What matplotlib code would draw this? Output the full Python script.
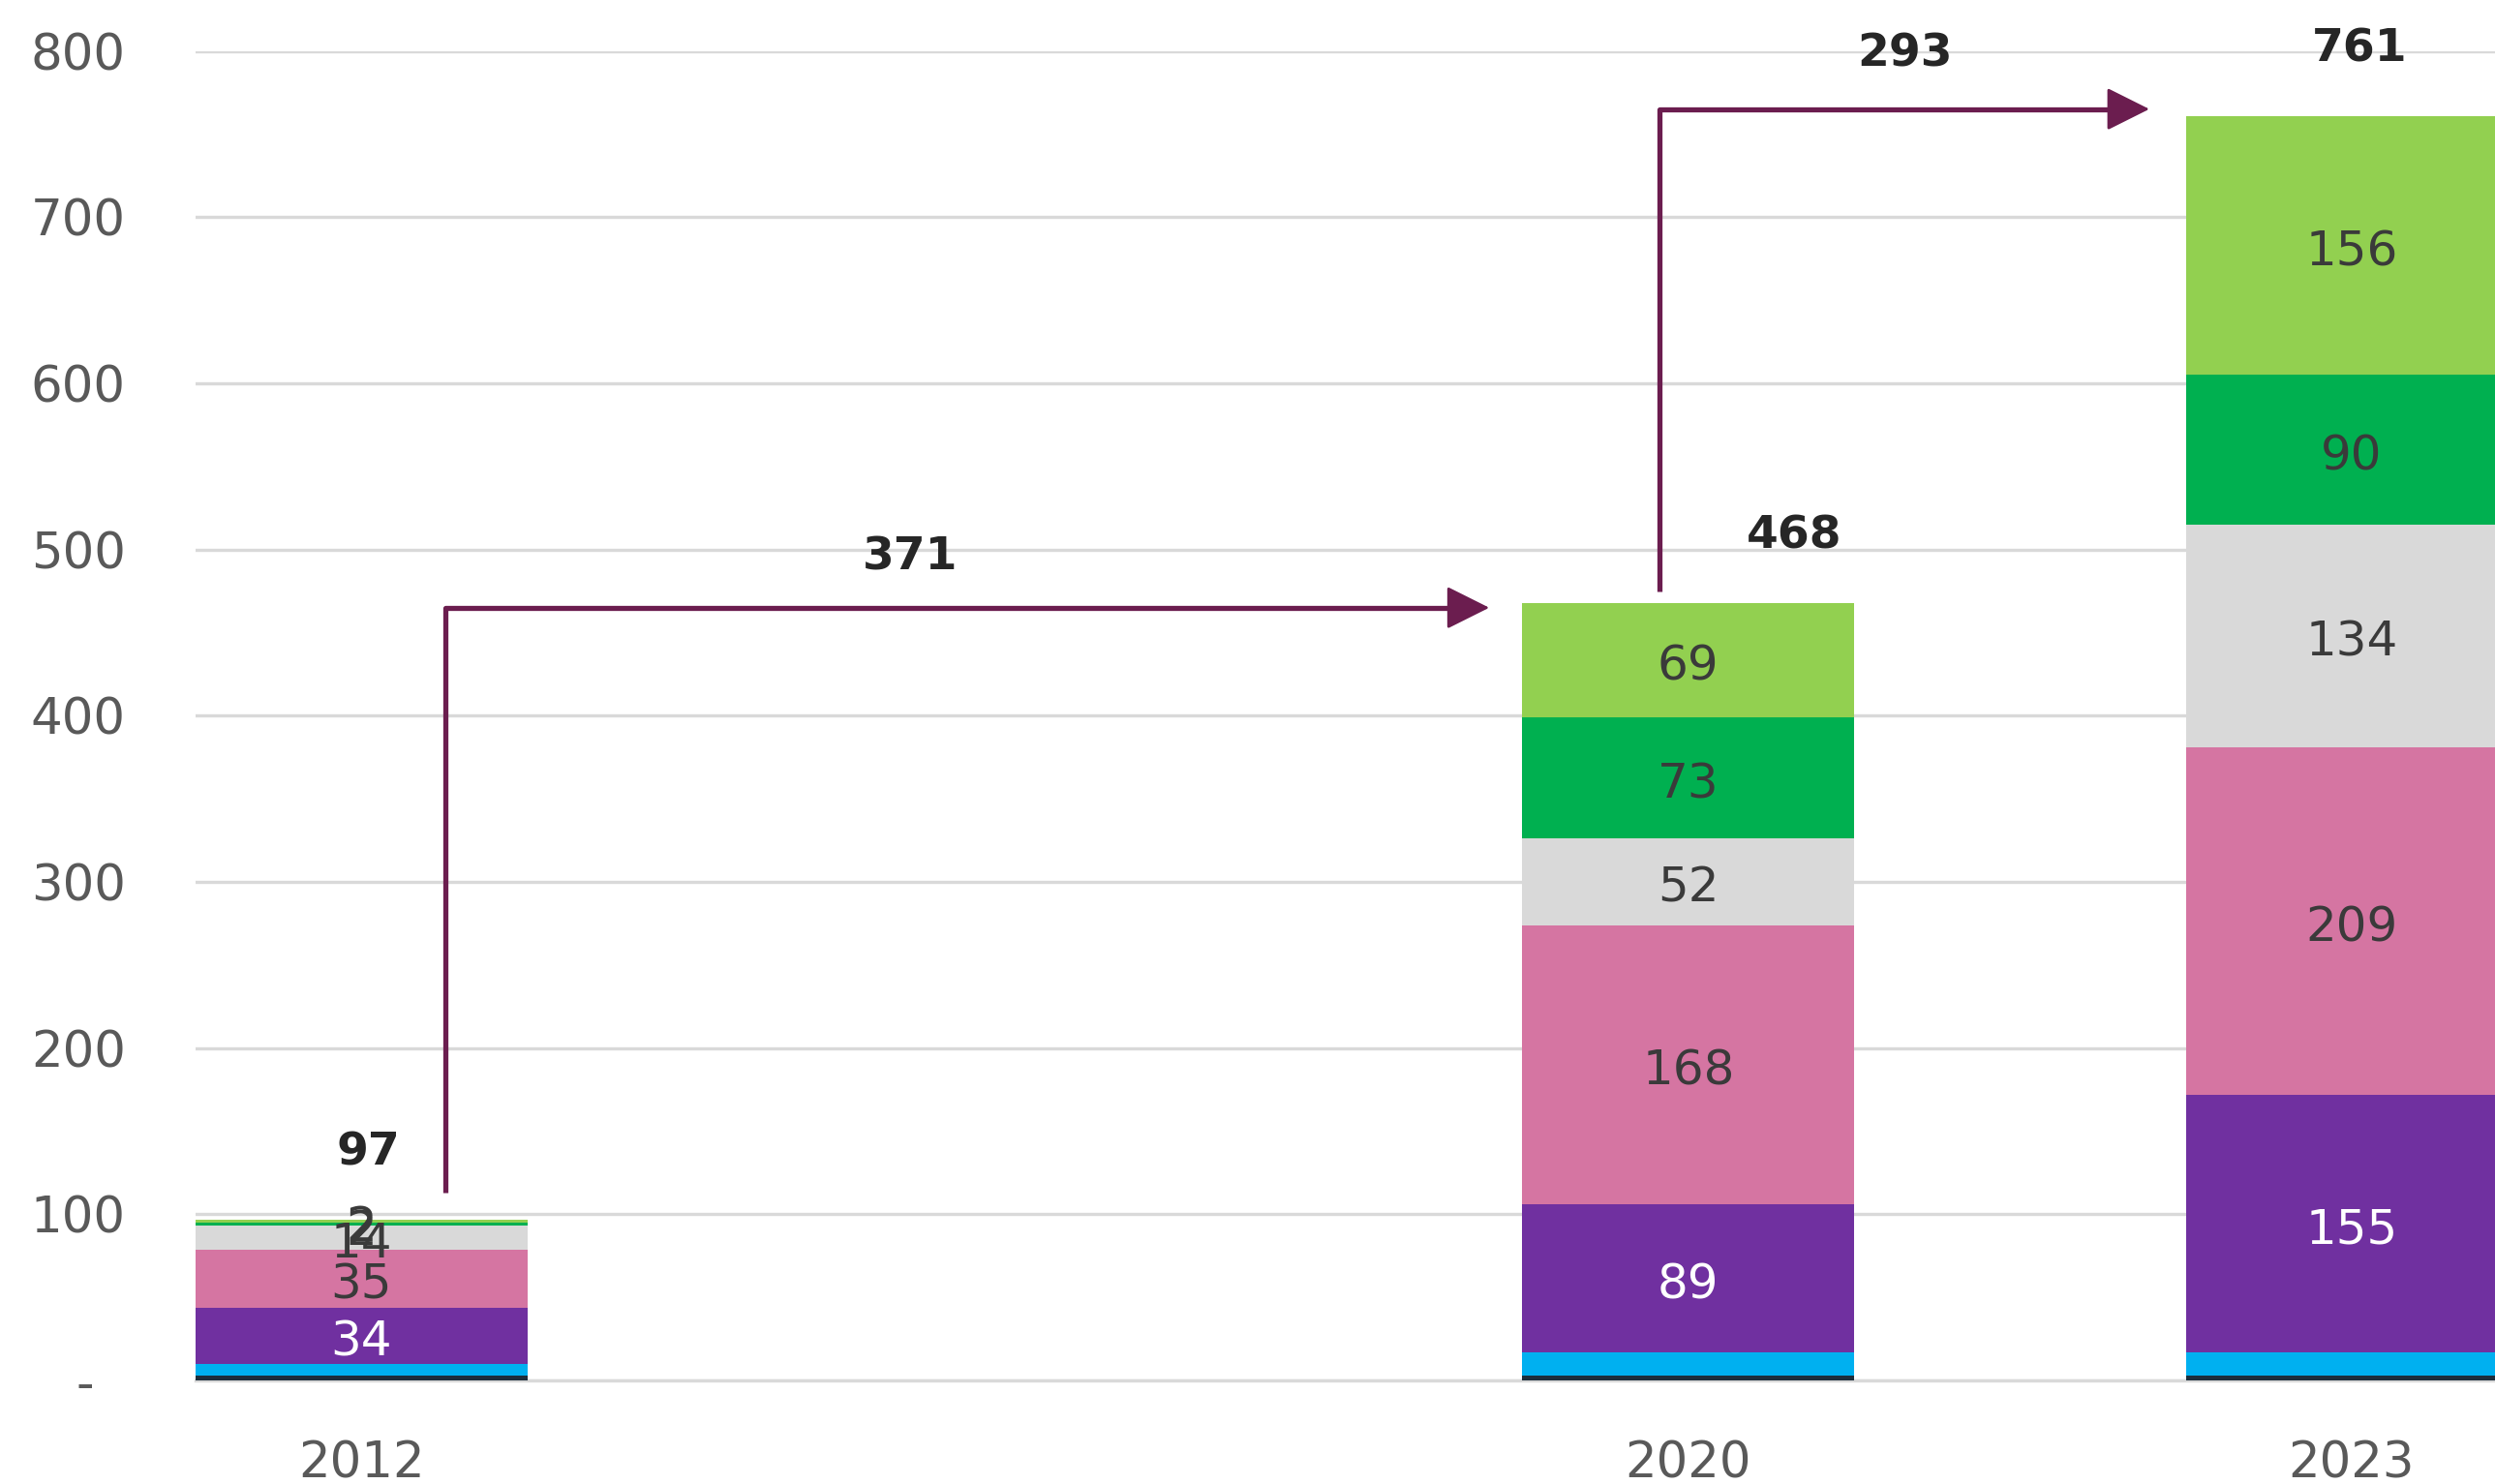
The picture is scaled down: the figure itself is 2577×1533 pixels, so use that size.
import matplotlib
matplotlib.use("Agg")
import matplotlib.pyplot as plt
from matplotlib.patches import FancyArrowPatch
import numpy as np

plt.rcParams['font.family'] = ['DejaVu Sans']

# 데이터
years = ["2012", "2020", "2023"]
x_pos = [0, 2, 3]   # 2012 와 2020 사이에 빈 칸 하나

seg_names = ["기타", "하늘", "보라", "분홍", "회색", "초록", "연두"]
seg_colors = ["#1c2e3c", "#00b0f0", "#7030a0", "#d575a2", "#d9d9d9", "#00b050", "#92d050"]
seg_values = [
    [3, 3, 3],
    [7, 14, 14],
    [34, 89, 155],
    [35, 168, 209],
    [14, 52, 134],
    [2, 73, 90],
    [2, 69, 156],
]
show_label = [False, False, True, True, True, True, True]
label_color = ["#3a3a3a", "#3a3a3a", "white", "#3a3a3a", "#3a3a3a", "#3a3a3a", "#3a3a3a"]

totals = [97, 468, 761]
total_dx = [0.01, 0.16, 0.012]

growth = ["371", "293"]
growth_x = [0.827, 2.326]

yticks = [0, 100, 200, 300, 400, 500, 600, 700, 800]
ytick_labels = ["-  ", "100", "200", "300", "400", "500", "600", "700", "800"]

fig = plt.figure(figsize=(25.77, 15.33), dpi=100)
ax = fig.add_axes([0.0784, 0.0697, 0.9216, 0.896])

bottom = np.zeros(len(years))
width = 0.5
for i, vals in enumerate(seg_values):
    vals = np.array(vals, dtype=float)
    ax.bar(x_pos, vals, width=width, bottom=bottom, color=seg_colors[i], zorder=3)
    if show_label[i]:
        for j, v in enumerate(vals):
            ax.text(x_pos[j], bottom[j] + v / 2 - 4, str(int(v)), ha="center", va="center",
                    fontsize=36, color=label_color[i], zorder=5)
    bottom += vals

# 합계
for j, t in enumerate(totals):
    ax.text(x_pos[j] + total_dx[j], t + 40, str(t), ha="center", va="center",
            fontsize=34, fontweight="bold", color="#262626", zorder=5)

# 증가 화살표
arrow_col = "#6b1d4f"
arrows = [
    (0.127, 113, 465, 1.70),
    (1.957, 475, 765, 2.695),
]
for k, (ax0, y0, y1, x1) in enumerate(arrows):
    ax.plot([ax0, ax0, x1 - 0.05], [y0, y1, y1], color=arrow_col, lw=3.8,
            solid_capstyle="butt", zorder=4)
    head = FancyArrowPatch((x1 - 0.08, y1), (x1, y1),
                           arrowstyle="-|>,head_length=28,head_width=14",
                           mutation_scale=1, color=arrow_col, lw=2,
                           shrinkA=0, shrinkB=0, zorder=4)
    ax.add_patch(head)
    ax.text(growth_x[k], y1 + 30 + 3 * k, growth[k], ha="center", va="center",
            fontsize=34, fontweight="bold", color="#262626", zorder=5)

ax.set_xlim(-0.25, 3.216)
ax.set_ylim(0, 800)
ax.set_yticks(yticks)
ax.set_yticklabels(ytick_labels)
ax.set_xticks(x_pos)
ax.set_xticklabels(years)
ax.yaxis.grid(True, color="#d9d9d9", lw=2.4, zorder=0)
ax.set_axisbelow(True)
for s in ["top", "right", "left"]:
    ax.spines[s].set_visible(False)
ax.spines["bottom"].set_color("#d9d9d9")
ax.spines["bottom"].set_linewidth(2.4)
ax.tick_params(axis="both", length=0, labelsize=37, labelcolor="#595959")
ax.tick_params(axis="y", pad=52)
ax.tick_params(axis="x", pad=44)

plt.savefig("out.png", dpi=100)
